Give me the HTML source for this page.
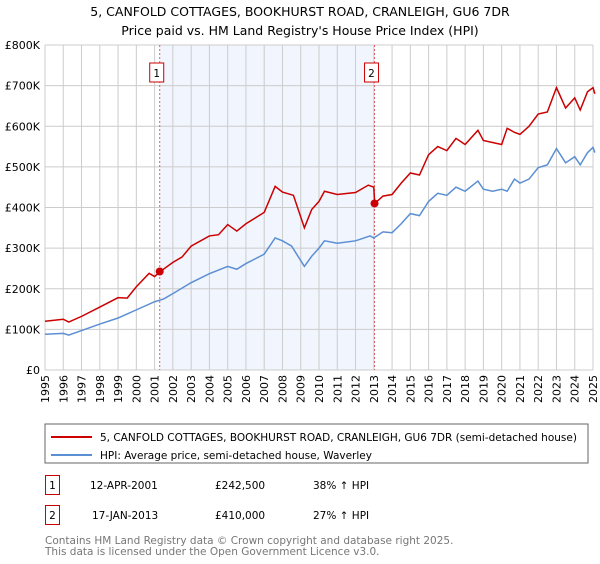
<!DOCTYPE html>
<html><head><meta charset="utf-8"><style>
body{margin:0;width:600px;height:560px;background:#fff;font-family:"DejaVu Sans","Liberation Sans",sans-serif;overflow:hidden}
svg text{font-family:"DejaVu Sans","Liberation Sans",sans-serif}
</style></head><body>
<svg id="c" width="600" height="560">
<text x="300" y="16" text-anchor="middle" font-size="12.5">5, CANFOLD COTTAGES, BOOKHURST ROAD, CRANLEIGH, GU6 7DR</text>
<text x="300" y="35" text-anchor="middle" font-size="12.5">Price paid vs. HM Land Registry's House Price Index (HPI)</text>
<g id="grid"></g><g id="series"></g><g id="axes"></g>
<rect x="45" y="424" width="543" height="39" fill="#fff" stroke="#666"/>
<line x1="51" y1="437" x2="92" y2="437" stroke="#cc0000" stroke-width="2"/>
<text x="100" y="441" font-size="10.5">5, CANFOLD COTTAGES, BOOKHURST ROAD, CRANLEIGH, GU6 7DR (semi-detached house)</text>
<line x1="51" y1="455" x2="92" y2="455" stroke="#5b8fd4" stroke-width="2"/>
<text x="100" y="459" font-size="10.5">HPI: Average price, semi-detached house, Waverley</text>
<g font-size="10.5">
<rect x="45.5" y="475.5" width="14" height="19" fill="#fff" stroke="#cc0000"/>
<text x="52.5" y="489" text-anchor="middle">1</text>
<text x="90" y="489">12-APR-2001</text>
<text x="215" y="489">£242,500</text>
<text x="313" y="489">38% ↑ HPI</text>
<rect x="45.5" y="505.5" width="14" height="19" fill="#fff" stroke="#cc0000"/>
<text x="52.5" y="519" text-anchor="middle">2</text>
<text x="92" y="519">17-JAN-2013</text>
<text x="215" y="519">£410,000</text>
<text x="313" y="519">27% ↑ HPI</text>
</g>
<text x="45" y="544" font-size="10.5" fill="#777">Contains HM Land Registry data © Crown copyright and database right 2025.</text>
<text x="45" y="555" font-size="10.5" fill="#777">This data is licensed under the Open Government Licence v3.0.</text>
</svg>
<script>
const yearTicks=[1995,1996,1997,1998,1999,2000,2001,2002,2003,2004,2005,2006,2007,2008,2009,2010,2011,2012,2013,2014,2015,2016,2017,2018,2019,2020,2021,2022,2023,2024,2025];
const valueTicks=[0,100,200,300,400,500,600,700,800];
const valueLabels=["£0","£100K","£200K","£300K","£400K","£500K","£600K","£700K","£800K"];
const hpiDates=[1995,1996,1996.3,1997,1998,1999,2000,2001,2001.5,2002,2003,2004,2005,2005.5,2006,2007,2007.6,2008,2008.5,2009.2,2009.6,2010,2010.3,2011,2012,2012.8,2013,2013.5,2014,2014.5,2015,2015.5,2016,2016.5,2017,2017.5,2018,2018.7,2019,2019.5,2020,2020.3,2020.7,2021,2021.5,2022,2022.5,2023,2023.5,2024,2024.3,2024.7,2025,2025.1];
const hpiValues=[88,90,86,97,113,128,148,168,175,188,215,237,255,248,262,285,325,318,305,255,280,300,318,312,318,330,325,340,338,360,385,380,415,435,430,450,440,465,445,440,445,440,470,460,470,498,505,545,510,525,505,535,548,535];
const priceDates=[1995,1996,1996.3,1997,1998,1999,1999.5,2000,2000.7,2001,2001.3,2002,2002.5,2003,2004,2004.5,2005,2005.5,2006,2007,2007.6,2008,2008.6,2009.2,2009.6,2010,2010.3,2011,2012,2012.7,2013,2013.05,2013.5,2014,2014.5,2015,2015.5,2016,2016.5,2017,2017.5,2018,2018.7,2019,2019.5,2020,2020.3,2020.7,2021,2021.5,2022,2022.5,2023,2023.5,2024,2024.3,2024.7,2025,2025.1];
const priceValues=[120,125,118,132,155,178,177,205,238,230,242,265,278,305,330,333,358,342,360,388,452,438,430,350,395,415,440,432,437,455,450,410,428,432,460,485,480,530,550,540,570,555,590,565,560,555,595,585,580,600,630,635,695,645,670,640,685,695,680];
const saleDates=[2001.28,2013.04];
const saleValues=[242.5,410];
const X=y=>45+(y-1995)*(548/30);
const Y=v=>370-v*(325/800);
const NS="http://www.w3.org/2000/svg";
function mk(tag,attrs,parent){const e=document.createElementNS(NS,tag);for(const k in attrs)e.setAttribute(k,attrs[k]);parent.appendChild(e);return e;}
const grid=document.getElementById('grid'),ser=document.getElementById('series'),ax=document.getElementById('axes');
const shade=mk('rect',{x:X(saleDates[0]),y:Y(800),width:X(saleDates[1])-X(saleDates[0]),height:Y(0)-Y(800),fill:'#eef3fd',opacity:0.8},grid);


yearTicks.forEach(yr=>{const l=mk('line',{x1:X(yr),x2:X(yr),y1:Y(800),y2:Y(0),stroke:'#ccc'},grid);


const t=mk('text',{x:0,y:0,'font-size':11,'text-anchor':'end',transform:`translate(${X(yr)+4},${Y(0)+5}) rotate(-90)`},ax);t.textContent=yr;

});
valueTicks.forEach((v,i)=>{const l=mk('line',{x1:X(1995),x2:X(2025),y1:Y(v),y2:Y(v),stroke:'#ccc'},grid);


const t=mk('text',{x:40,y:Y(v)+4,'font-size':11,'text-anchor':'end'},ax);t.textContent=valueLabels[i];

});
saleDates.forEach((d,i)=>{const l=mk('line',{x1:X(d),x2:X(d),y1:Y(800),y2:Y(0),stroke:'#e06060','stroke-dasharray':'2,2'},grid);


const r=mk('rect',{x:X(d)-10,y:63,width:14,height:19,fill:'#fff',stroke:'#cc0000'},grid);


const t=mk('text',{x:X(d)-3,y:77,'font-size':10.5,'text-anchor':'middle'},grid);t.textContent=i+1;

});
function line(ds,vs,col,name){const p=mk('polyline',{points:ds.map((d,i)=>X(d)+','+Y(vs[i])).join(' '),fill:'none',stroke:col,'stroke-width':1.5},ser);

}
line(hpiDates,hpiValues,'#5b8fd4','hpi-line');
line(priceDates,priceValues,'#cc0000','price-line');
saleDates.forEach((d,i)=>{const c=mk('circle',{cx:X(d),cy:Y(saleValues[i]),r:4,fill:'#cc0000'},ser);

});
</script>
</body></html>
